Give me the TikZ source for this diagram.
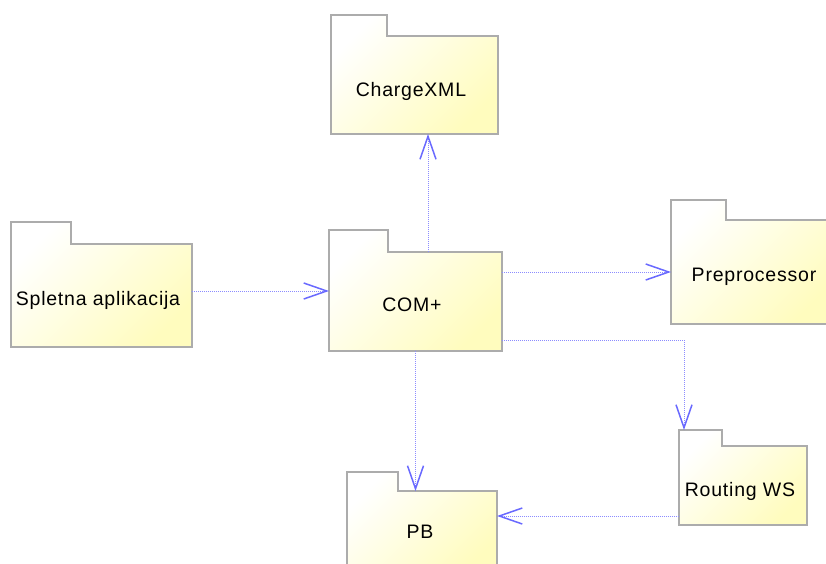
\documentclass[tikz,border=0pt]{standalone}
\usepackage{fontspec}
\setmainfont{Liberation Sans}[LetterSpace=4]
\usetikzlibrary{arrows.meta}

\definecolor{pkgline}{RGB}{172,172,172}
\definecolor{pkgyellow}{RGB}{255,252,190}
\definecolor{deplink}{RGB}{140,140,255}
\definecolor{deptip}{RGB}{105,105,255}

\tikzset{
  pkgarea/.style={inner sep=0pt, outer sep=0pt, draw=none, anchor=north west},
  folder/.style={draw=pkgline, line width=1.8pt, line join=miter,
    top color=white, bottom color=pkgyellow, shading angle=45},
  pkglabel/.style={anchor=base, inner sep=0pt, font=\fontsize{19.5}{23}\selectfont},
  dep/.style={draw=deplink, line width=0.8pt, dash pattern=on 1pt off 1pt,
    -{Straight Barb[length=23pt, width=16pt, line width=1.5pt, color=deptip]}},
}

% folder outline of a package: node, tab width, tab height
\newcommand\pkgshape[3]{%
  \path[folder] (#1.north west) -- ++(#2,0) -- ++(0,#3)
    -- ([yshift=-#3pt]#1.north east) -- (#1.south east)
    -- (#1.south west) -- cycle;}

\begin{document}
\begin{tikzpicture}[x=1pt, y=-1pt]
\useasboundingbox (0,0) rectangle (826,563);
\clip (0,0) rectangle (826,563);

% package areas (tab included)
\node[pkgarea, minimum width=167pt, minimum height=119pt] (chg) at (331,15) {};
\node[pkgarea, minimum width=181pt, minimum height=125pt] (spl) at (11,222) {};
\node[pkgarea, minimum width=173pt, minimum height=121pt] (com) at (329,230) {};
\node[pkgarea, minimum width=163pt, minimum height=124pt] (pre) at (671,200) {};
\node[pkgarea, minimum width=128pt, minimum height=95pt]  (rou) at (679,430) {};
\node[pkgarea, minimum width=150pt, minimum height=103pt] (pb)  at (347,472) {};

% folders
\pkgshape{chg}{56}{21}
\pkgshape{spl}{60}{22}
\pkgshape{com}{59}{22}
\pkgshape{pre}{55}{20}
\pkgshape{rou}{43}{16}
\pkgshape{pb}{51}{19}

% names
\node[pkglabel] (chg-t) at (411,96)  {ChargeXML};
\node[pkglabel] (spl-t) at (98,305)  {Spletna aplikacija};
\node[pkglabel] (com-t) at (412,311) {COM+};
\node[pkglabel] (pre-t) at (754,281) {Preprocessor};
\node[pkglabel] (rou-t) at (740,496) {Routing WS};
\node[pkglabel] (pb-t)  at (420,538) {PB};

% dependencies
\coordinate (pbtop) at ([yshift=-19pt]pb.north);
\draw[dep] ([xshift=12.5pt,yshift=-22pt]com.north) -- ([xshift=12.5pt]com.north |- chg.south);
\draw[dep] ([yshift=-6.5pt]spl.east) -- ([yshift=-6.5pt]spl.east -| com.west);
\draw[dep] ([yshift=18.5pt]com.east) -- ([yshift=18.5pt]com.east -| pre.west);
\draw[dep] ([yshift=-49.5pt]com.east) -| ([xshift=-59pt]rou.north);
\draw[dep] (com.south) -- (com.south |- pbtop);
\draw[dep] ([yshift=-38.5pt]rou.west) -- ([yshift=-38.5pt]rou.west -| pb.east);
\end{tikzpicture}
\end{document}
